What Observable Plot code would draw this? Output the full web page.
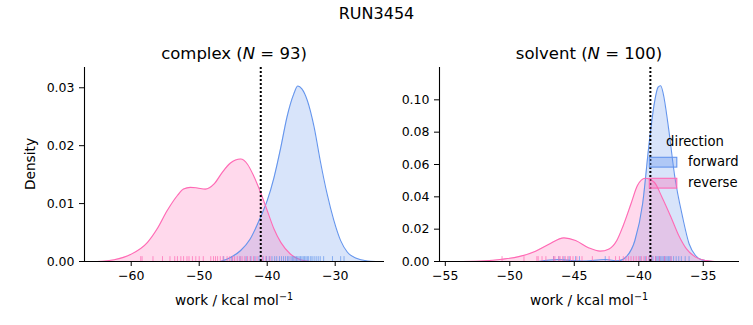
<!DOCTYPE html>
<html><head><meta charset="utf-8">
<script src="https://cdn.jsdelivr.net/npm/d3@7"></script>
<script src="https://cdn.jsdelivr.net/npm/@observablehq/plot@0.6"></script>
<style>
body{margin:0;background:#fff}
#fig{position:relative;width:753px;height:325px;font-family:"DejaVu Sans",sans-serif;background:#fff}
#fig > svg{position:absolute;top:0;overflow:visible;background:transparent}
</style></head><body><div id="fig"></div>
<script>
// ---- data ----
const figTitle = "RUN3454";
const directions = ["forward", "reverse"];
const colors = ["#6495ed", "#ff69b4"];

// complex panel: KDE curves
const complexForwardWork = [-46.9,-45.4,-43.9,-42.5,-41.0,-40.0,-39.0,-38.0,-37.1,-36.1,-35.5,-34.9,-34.1,-33.1,-32.2,-31.2,-30.2,-29.2,-28.2,-26.8,-25.3,-24.0];
const complexForwardDensity = [0,0.0007,0.0019,0.0039,0.0076,0.0105,0.0145,0.0197,0.0249,0.0289,0.0303,0.0298,0.0278,0.0232,0.0174,0.0117,0.0071,0.0036,0.0016,0.0005,0.0001,0];
const complexReverseWork = [-65.0,-62.5,-60.1,-57.6,-56.2,-54.7,-53.2,-52.3,-51.3,-50.3,-49.1,-47.8,-46.6,-45.4,-43.9,-42.9,-42.0,-41.0,-40.0,-39.0,-38.0,-36.6,-35.1,-33.6];
const complexReverseDensity = [0,0.0003,0.0012,0.0033,0.0056,0.0088,0.0114,0.0125,0.0128,0.0127,0.0125,0.0134,0.0154,0.0170,0.0177,0.0168,0.0148,0.0120,0.0088,0.0056,0.0033,0.0013,0.0003,0];
// complex rugs (individual work values)
const complexForwardRug = [-46.4,-45.2,-44.0,-43.1,-42.4,-41.8,-41.2,-40.6,-40.1,-39.7,-39.3,-38.9,-38.6,-38.2,-37.9,-37.6,-37.3,-37.0,-36.8,-36.5,-36.3,-36.1,-35.9,-35.7,-35.5,-35.3,-35.1,-34.9,-34.7,-34.5,-34.3,-34.1,-33.9,-33.6,-33.4,-33.1,-32.8,-32.5,-32.2,-31.7,-30.4,-29.2,-28.7];
const complexReverseRug = [-58.6,-58.4,-56.8,-55.4,-54.3,-53.6,-53.2,-52.7,-52.3,-51.8,-51.5,-51.0,-50.5,-50.0,-49.4,-48.3,-47.9,-47.6,-47.3,-46.9,-46.5,-45.9,-45.5,-45.1,-44.8,-44.4,-44.0,-43.7,-43.3,-42.9,-42.5,-42.0,-41.5,-40.7,-40.2,-39.6];

// solvent panel
const solventForwardWork = [-47.8,-46.2,-45.2,-44.2,-42.6,-41.6,-41.0,-40.3,-39.7,-39.2,-38.8,-38.5,-38.3,-38.1,-37.7,-37.2,-36.6,-36.1,-35.6,-35.1,-34.3];
const solventForwardDensity = [0,0.0012,0.0006,0.0003,0.0012,0.0004,0.0027,0.013,0.0357,0.0728,0.0975,0.1078,0.1087,0.1037,0.083,0.052,0.0274,0.011,0.0037,0.001,0];
const solventReverseWork = [-53.7,-51.9,-50.6,-49.3,-48.0,-47.0,-45.8,-44.9,-43.9,-43.0,-42.3,-41.7,-41.2,-40.6,-40.1,-39.5,-38.8,-38.2,-37.5,-36.9,-36.3,-35.6,-34.8,-34.1];
const solventReverseDensity = [0,0.0004,0.0014,0.003,0.0064,0.0105,0.0146,0.013,0.0085,0.0064,0.0078,0.013,0.0223,0.0357,0.047,0.0515,0.049,0.0398,0.0274,0.0161,0.0078,0.0027,0.0006,0];
const solventForwardRug = [-46.6,-46.2,-45.8,-45.4,-44.9,-44.6,-42.6,-39.9,-39.5,-39.2,-39.0,-38.9,-38.7,-38.6,-38.5,-38.4,-38.3,-38.2,-38.1,-38.0,-37.9,-37.8,-37.7,-37.6,-37.5,-37.3,-37.1,-36.9,-36.7,-36.4,-36.1];
const solventReverseRug = [-50.6,-48.9,-47.9,-47.8,-47.5,-47.2,-46.6,-46.5,-46.2,-46.1,-45.9,-45.7,-45.5,-45.3,-45.1,-44.8,-44.4,-43.6,-42.3,-41.8,-41.5,-41.2,-41.0,-40.8,-40.6,-40.4,-40.2,-40.0,-39.8,-39.6,-39.4,-39.2,-39.0,-38.7,-38.4,-38.0,-37.5];

// free-energy estimates (dotted lines)
const complexEstimate = -40.95;
const solventEstimate = -39.1;

// axes
const complexTitleName = "complex", complexN = 93;
const solventTitleName = "solvent", solventN = 100;
const complexXDomain = [-66.87, -22.75];
const complexYDomain = [0, 0.0335];
const solventXDomain = [-55.45, -32.19];
const solventYDomain = [0, 0.12];
const complexXTicks = [-60, -50, -40, -30];
const complexYTicks = [0, 0.01, 0.02, 0.03];
const solventXTicks = [-55, -50, -45, -40, -35];
const solventYTicks = [0, 0.02, 0.04, 0.06, 0.08, 0.10];
const xLabel = "work / kcal mol";
const yLabel = "Density";
const legendTitle = "direction";

// ---- build ----
function rows(works, dens, dir) { return works.map((w, i) => ({work: w, density: dens[i], direction: dir})); }
function rugRows(works, dir) { return works.map(w => ({work: w, direction: dir})); }

const fig = document.getElementById("fig");
const FONT = "DejaVu Sans, sans-serif";

function panel({curves, rugs, estimate, xDomain, yDomain, xTicks, yTicks, left, width, marginRight}) {
  const rugH = (yDomain[1] - yDomain[0]) * 0.025;
  const p = Plot.plot({
    width, height: 325,
    marginLeft: 84, marginRight, marginTop: 67, marginBottom: 64,
    style: {fontFamily: FONT, fontSize: "12.5px", background: "transparent", overflow: "visible"},
    x: {domain: xDomain, ticks: xTicks, tickSize: 5, tickPadding: 5, label: null},
    y: {domain: yDomain, ticks: yTicks, tickSize: 5, tickPadding: 5, tickFormat: d3.format(".2f"), label: null},
    color: {domain: directions, range: colors},
    marks: [
      Plot.areaY(curves, {x: "work", y1: () => 0, y2: "density", z: "direction", fill: "direction", fillOpacity: 0.25, curve: "monotone-x"}),
      Plot.lineY(curves, {x: "work", y: "density", z: "direction", stroke: "direction", strokeWidth: 1.1, curve: "monotone-x"}),
      Plot.ruleX(rugs, {x: "work", y1: () => 0, y2: () => rugH, stroke: "direction", strokeOpacity: 0.7, strokeWidth: 1}),
      Plot.ruleY([yDomain[0]], {stroke: "black", strokeWidth: 1.1}),
      Plot.ruleX([xDomain[0]], {stroke: "black", strokeWidth: 1.1}),
      Plot.ruleX([estimate], {stroke: "black", strokeWidth: 2, strokeDasharray: "2,2"})
    ]
  });
  p.style.left = left + "px";
  fig.appendChild(p);
}

panel({
  curves: [...rows(complexForwardWork, complexForwardDensity, "forward"), ...rows(complexReverseWork, complexReverseDensity, "reverse")],
  rugs: [...rugRows(complexForwardRug, "forward"), ...rugRows(complexReverseRug, "reverse")],
  estimate: complexEstimate, xDomain: complexXDomain, yDomain: complexYDomain,
  xTicks: complexXTicks, yTicks: complexYTicks, left: 0, width: 400, marginRight: 16
});
panel({
  curves: [...rows(solventForwardWork, solventForwardDensity, "forward"), ...rows(solventReverseWork, solventReverseDensity, "reverse")],
  rugs: [...rugRows(solventForwardRug, "forward"), ...rugRows(solventReverseRug, "reverse")],
  estimate: solventEstimate, xDomain: solventXDomain, yDomain: solventYDomain,
  xTicks: solventXTicks, yTicks: solventYTicks, left: 355, width: 398, marginRight: 14
});

// ---- text overlay (titles, labels, legend) ----
const NS = "http://www.w3.org/2000/svg";
const ov = document.createElementNS(NS, "svg");
ov.setAttribute("width", 753); ov.setAttribute("height", 325);
ov.style.left = "0px"; ov.style.pointerEvents = "none";
ov.setAttribute("font-family", FONT);
fig.appendChild(ov);
function el(tag, attrs, parent = ov) {
  const e = document.createElementNS(NS, tag);
  for (const k in attrs) e.setAttribute(k, attrs[k]);
  parent.appendChild(e); return e;
}
function txt(attrs, parts) {
  const t = el("text", attrs);
  for (const [s, a] of parts) { const ts = el("tspan", a || {}, t); ts.textContent = s; }
  return t;
}
txt({x: 376.5, y: 19, "text-anchor": "middle", "font-size": 16}, [[figTitle]]);
txt({x: 234, y: 59, "text-anchor": "middle", "font-size": 16.5},
  [[complexTitleName + " ("], ["N", {"font-style": "italic"}], [" = " + complexN + ")"]]);
txt({x: 589, y: 59, "text-anchor": "middle", "font-size": 16.5},
  [[solventTitleName + " ("], ["N", {"font-style": "italic"}], [" = " + solventN + ")"]]);
for (const cx of [234, 589]) {
  const t = txt({x: cx, y: 305, "text-anchor": "middle", "font-size": 13.7}, [[xLabel]]);
  const s = el("tspan", {"font-size": 9.6, dy: -5.5}, t); s.textContent = "\u22121";
}
txt({transform: "translate(35,164) rotate(-90)", "text-anchor": "middle", "font-size": 13.7}, [[yLabel]]);
// legend
txt({x: 695, y: 146, "text-anchor": "middle", "font-size": 13.2}, [[legendTitle]]);
directions.forEach((d, i) => {
  const y = 157.3 + i * 21;
  el("rect", {x: 649.3, y, width: 27.5, height: 9.8, fill: colors[i], "fill-opacity": 0.35, stroke: colors[i], "stroke-width": 1.1});
  txt({x: 688, y: y + 8.6, "font-size": 13.2}, [[d]]);
});
</script></body></html>
